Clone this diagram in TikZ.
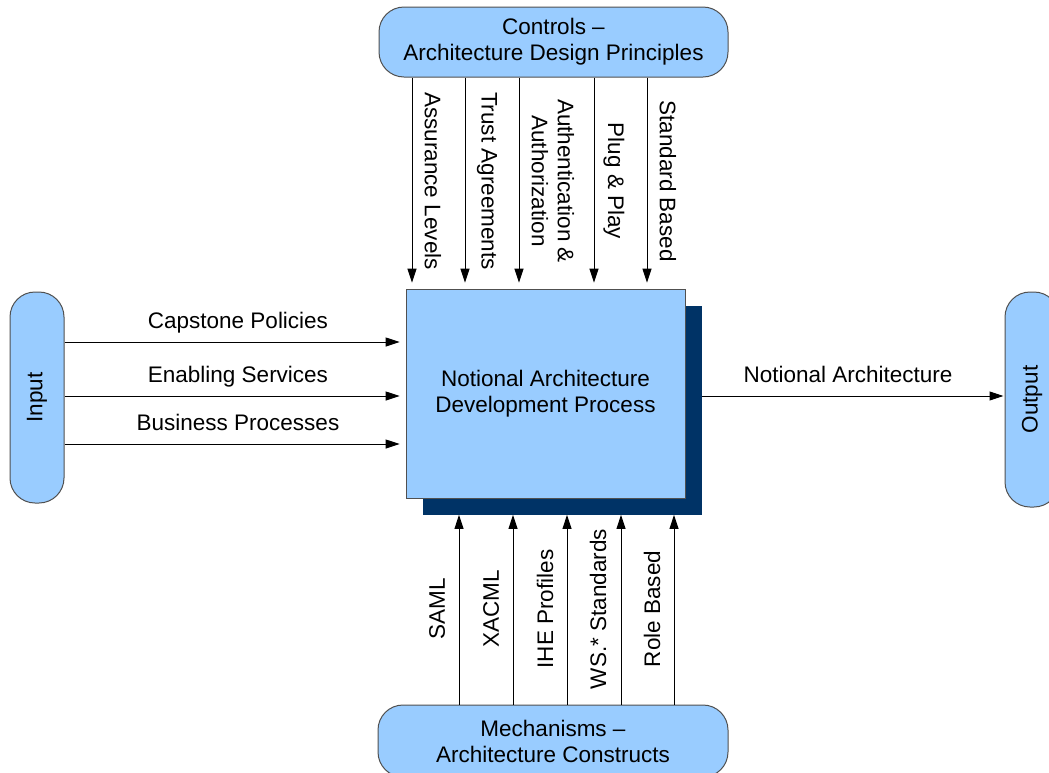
\documentclass[tikz,border=0pt]{standalone}
\usepackage{fontspec}
\usepackage{graphicx}
\setmainfont{Liberation Sans}
\usetikzlibrary{arrows.meta,shadows}
\definecolor{boxfill}{HTML}{99CCFF}
\definecolor{shadowcol}{HTML}{003366}
\definecolor{edgecol}{HTML}{505050}
\begin{document}
\begin{tikzpicture}[x=1pt,y=-1pt,
  every node/.style={font=\fontsize{22.5}{26}\selectfont},
  pill/.style={draw=edgecol, line width=1pt, fill=boxfill, rounded corners=25pt, inner sep=0pt, align=center},
  procbox/.style={draw=edgecol, line width=0.8pt, fill=boxfill, inner sep=0pt, align=center,
    drop shadow={shadow xshift=16.5pt, shadow yshift=-16.5pt, fill=shadowcol, opacity=1}},
  arr/.style={-{Triangle[length=14pt,width=9pt]}, line width=1pt, black},
  lab/.style={inner sep=0pt, align=center}]
\useasboundingbox (0,0) rectangle (1049,772);
\clip (0,0) rectangle (1049,772);

% boxes
\node[pill, minimum width=349pt, minimum height=70pt] (ctl) at (553.5,42) {Controls –\\Architecture Design Principles};
\node[pill, minimum width=350pt, minimum height=72pt] (mech) at (553,741) {Mechanisms –\\Architecture Constructs};
\node[pill, minimum width=54pt, minimum height=211pt] (in) at (37,397.5) {\rotatebox{90}{Input}};
\node[pill, minimum width=54pt, minimum height=215pt] (out) at (1032,399.5) {\rotatebox{90}{Output}};
\node[procbox, minimum width=279pt, minimum height=209pt] (main) at (545.5,393.5) {Notional Architecture\\Development Process};

\coordinate (shr) at ([xshift=16.5pt]main.east);
\coordinate (shb) at ([yshift=-16.5pt]main.south);

% input arrows
\coordinate (y1) at (0,342);
\coordinate (y2) at (0,396);
\coordinate (y3) at (0,444);
\draw[arr, shorten >=6pt] (in.east |- y1) -- (main.west |- y1);
\draw[arr, shorten >=6pt] (in.east |- y2) -- (main.west |- y2);
\draw[arr, shorten >=6pt] (in.east |- y3) -- (main.west |- y3);
\node[anchor=base, inner sep=0pt] (lcap) at (238,328) {Capstone Policies};
\node[anchor=base, inner sep=0pt] (lena) at (238,382) {Enabling Services};
\node[anchor=base, inner sep=0pt] (lbus) at (238,430) {Business Processes};

% output arrow
\draw[arr, shorten >=1pt] (shr |- y2) -- (out.west |- y2);
\node[anchor=base, inner sep=0pt] (lout) at (848,382) {Notional Architecture};

% control arrows
\coordinate (t1) at (412,0);
\coordinate (t2) at (465,0);
\coordinate (t3) at (519,0);
\coordinate (t4) at (594,0);
\coordinate (t5) at (647,0);
\draw[arr, shorten >=6pt] (t1 |- ctl.south) -- (t1 |- main.north);
\draw[arr, shorten >=6pt] (t2 |- ctl.south) -- (t2 |- main.north);
\draw[arr, shorten >=6pt] (t3 |- ctl.south) -- (t3 |- main.north);
\draw[arr, shorten >=6pt] (t4 |- ctl.south) -- (t4 |- main.north);
\draw[arr, shorten >=6pt] (t5 |- ctl.south) -- (t5 |- main.north);
\node[lab, rotate=-90] (lass) at (433,181) {Assurance Levels};
\node[lab, rotate=-90] (ltru) at (487,181) {Trust Agreements};
\node[lab, rotate=-90] (laut) at (553,181) {Authentication \&\\Authorization};
\node[lab, rotate=-90] (lplu) at (614,181) {Plug \& Play};
\node[lab, rotate=-90] (lsta) at (668,181) {Standard Based};

% mechanism arrows
\coordinate (b1) at (459,0);
\coordinate (b2) at (513,0);
\coordinate (b3) at (567,0);
\coordinate (b4) at (621,0);
\coordinate (b5) at (674,0);
\draw[arr] (b1 |- mech.north) -- (b1 |- shb);
\draw[arr] (b2 |- mech.north) -- (b2 |- shb);
\draw[arr] (b3 |- mech.north) -- (b3 |- shb);
\draw[arr] (b4 |- mech.north) -- (b4 |- shb);
\draw[arr] (b5 |- mech.north) -- (b5 |- shb);
\node[lab, rotate=90] (lsam) at (437,609) {SAML};
\node[lab, rotate=90] (lxac) at (491,609) {XACML};
\node[lab, rotate=90] (lihe) at (545,609) {IHE Profiles};
\node[lab, rotate=90] (lwss) at (598,609) {WS.* Standards};
\node[lab, rotate=90] (lrol) at (652,609) {Role Based};
\end{tikzpicture}
\end{document}
